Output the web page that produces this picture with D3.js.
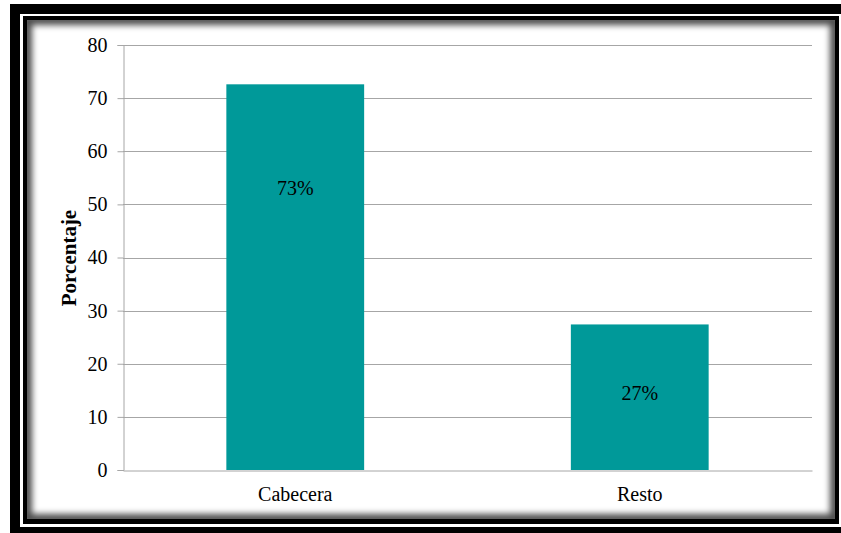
<!DOCTYPE html>
<html><head><meta charset="utf-8">
<script src="https://cdn.jsdelivr.net/npm/d3@7"></script>
<style>
html,body{margin:0;padding:0;background:#fff;}
svg{display:block;}
svg text{font-family:"Liberation Serif","Times New Roman",serif;}
</style></head>
<body>
<script>
const categories = ["Cabecera", "Resto"];
const values = [72.6, 27.4];
const valueLabels = ["73%", "27%"];
const labelAnchors = [53, 14.5];
const yTicks = [0, 10, 20, 30, 40, 50, 60, 70, 80];
const yTitle = "Porcentaje";

const W = 841, H = 533;
const svg = d3.select("body").append("svg").attr("width", W).attr("height", H);
const defs = svg.append("defs");

// frame
svg.append("rect").attr("x", 0).attr("y", 0).attr("width", W).attr("height", H).attr("fill", "#fff");
svg.append("rect").attr("x", 10).attr("y", 4).attr("width", 845).attr("height", 545).attr("fill", "#000");
svg.append("rect").attr("x", 20).attr("y", 14).attr("width", 821).attr("height", 513).attr("fill", "#fff");
// inner box
const ix = 23, iy = 16, iw = 816, ih = 508;
svg.append("rect").attr("x", ix).attr("y", iy).attr("width", iw).attr("height", ih).attr("fill", "#000");
const inx = 27, iny = 20, inw = 808, inh = 499;
defs.append("clipPath").attr("id", "inner").append("rect")
  .attr("x", inx).attr("y", iny).attr("width", inw).attr("height", inh);
defs.append("filter").attr("id", "blur").attr("x", "-10%").attr("y", "-10%").attr("width", "120%").attr("height", "120%")
  .append("feGaussianBlur").attr("stdDeviation", 3);
svg.append("rect").attr("x", inx).attr("y", iny).attr("width", inw).attr("height", inh).attr("fill", "#fff");
svg.append("g").attr("clip-path", "url(#inner)")
  .append("rect").attr("x", inx).attr("y", iny).attr("width", inw).attr("height", inh)
  .attr("fill", "none").attr("stroke", "#000").attr("stroke-width", 10)
  .attr("stroke-opacity", 0.7).attr("filter", "url(#blur)");

// plot
const px0 = 123, px1 = 812, py0 = 470, py1 = 45;
const x = d3.scaleBand().domain(categories).range([px0, px1]).paddingInner(0.6).paddingOuter(0.3);
const y = d3.scaleLinear().domain([0, 80]).range([py0, py1]);
const font = "Liberation Serif, Times New Roman, serif";

// gridlines
svg.append("g").selectAll("line").data(yTicks.filter(d => d > 0)).join("line")
  .attr("x1", px0).attr("x2", px1).attr("y1", d => Math.round(y(d)) + 0.5).attr("y2", d => Math.round(y(d)) + 0.5)
  .attr("stroke", "#a6a6a6").attr("stroke-width", 1);

// bars
svg.append("g").selectAll("rect").data(values).join("rect")
  .attr("x", (d, i) => x(categories[i])).attr("width", x.bandwidth())
  .attr("y", d => y(d)).attr("height", d => y(0) - y(d))
  .attr("fill", "#009999");

// y axis
const yAxis = d3.axisLeft(y).tickValues(yTicks).tickSize(6).tickPadding(10);
const gy = svg.append("g").attr("transform", `translate(${px0 + 0.5},0)`).call(yAxis)
  .attr("font-family", font).attr("font-size", 20);
gy.select(".domain").attr("stroke", "#a6a6a6");
gy.selectAll(".tick line").attr("stroke", "#a6a6a6");
gy.selectAll(".tick text").style("font-family", font).style("font-size", "20px").attr("fill", "#000");

// x axis
const xAxis = d3.axisBottom(x).tickSize(0).tickPadding(16);
const gx = svg.append("g").attr("transform", `translate(0,${py0 + 0.5})`).call(xAxis)
  .attr("font-family", font).attr("font-size", 20);
gx.select(".domain").attr("stroke", "#a6a6a6");
gx.selectAll(".tick text").style("font-family", font).style("font-size", "20px").attr("fill", "#000");

// value labels
svg.append("g").selectAll("text").data(valueLabels).join("text")
  .attr("x", (d, i) => x(categories[i]) + x.bandwidth() / 2)
  .attr("y", (d, i) => y(labelAnchors[i]))
  .attr("text-anchor", "middle").attr("dominant-baseline", "central")
  .style("font-family", font).style("font-size", "20px").attr("fill", "#000")
  .text(d => d);

// y title
svg.append("text").attr("transform", `translate(76,258) rotate(-90)`)
  .attr("text-anchor", "middle").style("font-family", font).style("font-size", "21px")
  .attr("font-weight", "bold").attr("fill", "#000").text(yTitle);
</script>
</body></html>
